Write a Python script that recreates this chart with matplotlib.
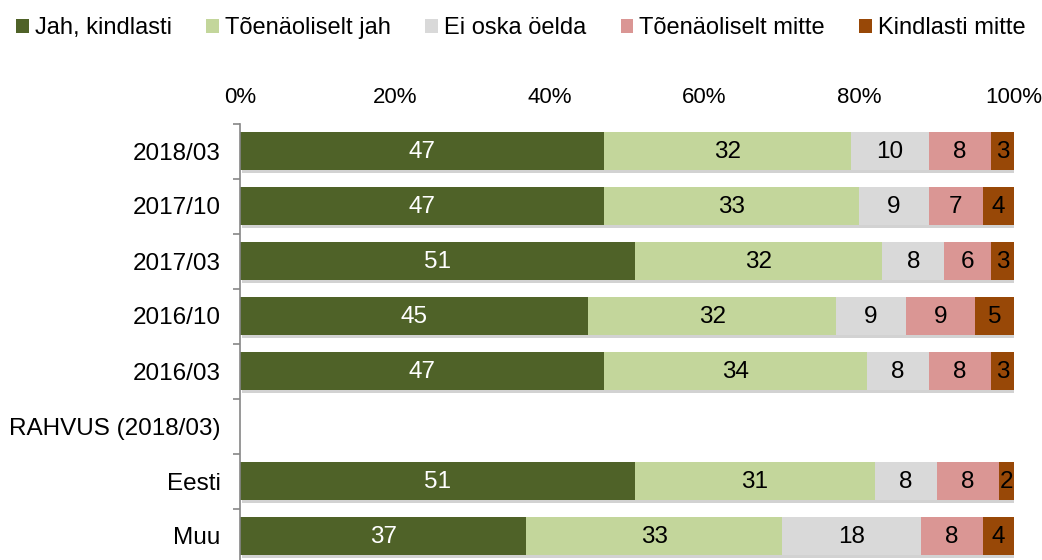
import numpy as np
import pandas as pd
from matplotlib import pyplot as plt
from matplotlib import patheffects as pe
from matplotlib.patches import Patch
from matplotlib.ticker import FixedLocator

plt.rcParams['font.family'] = ['Liberation Sans', 'DejaVu Sans']

categories = ['2018/03', '2017/10', '2017/03', '2016/10', '2016/03',
              'RAHVUS (2018/03)', 'Eesti', 'Muu']
series_names = ['Jah, kindlasti', 'Tõenäoliselt jah', 'Ei oska öelda',
                'Tõenäoliselt mitte', 'Kindlasti mitte']
jah_kindlasti = [47, 47, 51, 45, 47, None, 51, 37]
toenaoliselt_jah = [32, 33, 32, 32, 34, None, 31, 33]
ei_oska = [10, 9, 8, 9, 8, None, 8, 18]
toenaoliselt_mitte = [8, 7, 6, 9, 8, None, 8, 8]
kindlasti_mitte = [3, 4, 3, 5, 3, None, 2, 4]
x_ticks = [0, 20, 40, 60, 80, 100]

colors = ['#4F6228', '#C3D69B', '#D9D9D9', '#DA9694', '#984807']
text_colors = ['white', 'black', 'black', 'black', 'black']
FS = 17.5

df = pd.DataFrame(
    [jah_kindlasti, toenaoliselt_jah, ei_oska, toenaoliselt_mitte, kindlasti_mitte],
    index=series_names).T.astype(float)
df['pos'] = np.arange(len(categories))
bars_df = df.dropna()


def main():
    fig = plt.figure(figsize=(10.42, 5.6), dpi=100)
    ax = fig.add_axes([240 / 1042, 0, (1014 - 240) / 1042, 1 - 123.5 / 560])

    shadow = [pe.SimplePatchShadow(offset=(1.5, -2), shadow_rgbFace='#808080', alpha=0.35),
              pe.Normal()]
    left = np.zeros(len(bars_df))
    for name, color, tc in zip(series_names, colors, text_colors):
        vals = bars_df[name].values
        bars = ax.barh(bars_df['pos'], vals, left=left, height=0.69,
                       color=color, linewidth=0)
        for b in bars:
            b.set_path_effects(shadow)
        for y, l, v in zip(bars_df['pos'], left, vals):
            ax.text(l + v / 2, y + 0.02, '%d' % v, ha='center', va='center',
                    color=tc, fontsize=FS)
        left = left + vals

    ax.set_xlim(0, 100)
    ax.set_ylim(7 + 24 / 55, -0.5)
    ax.xaxis.tick_top()
    ax.set_xticks(x_ticks)
    ax.set_xticklabels(['%d%%' % t for t in x_ticks], fontsize=16)
    ax.tick_params(axis='x', length=0, pad=11)
    ax.set_yticks(range(len(categories)))
    ax.set_yticklabels(categories, fontsize=FS)
    ax.tick_params(axis='y', which='major', length=0, pad=14)
    ax.yaxis.set_minor_locator(FixedLocator(np.arange(len(categories) + 1) - 0.5))
    ax.tick_params(axis='y', which='minor', length=5, width=1.2, color='#868686')
    for s in ['top', 'right', 'bottom']:
        ax.spines[s].set_visible(False)
    ax.spines['left'].set_color('#868686')
    ax.spines['left'].set_linewidth(1.2)

    handles = [Patch(facecolor=c, edgecolor='none') for c in colors]
    fig.legend(handles, series_names, loc='center left', bbox_to_anchor=(16 / 1042, 1 - 28 / 560),
               ncol=5, frameon=False, fontsize=17, handlelength=0.55, handleheight=0.55,
               handletextpad=0.25, columnspacing=1.45, borderaxespad=0, borderpad=0)

    fig.savefig('out.png', dpi=100)


if __name__ == '__main__':
    main()
